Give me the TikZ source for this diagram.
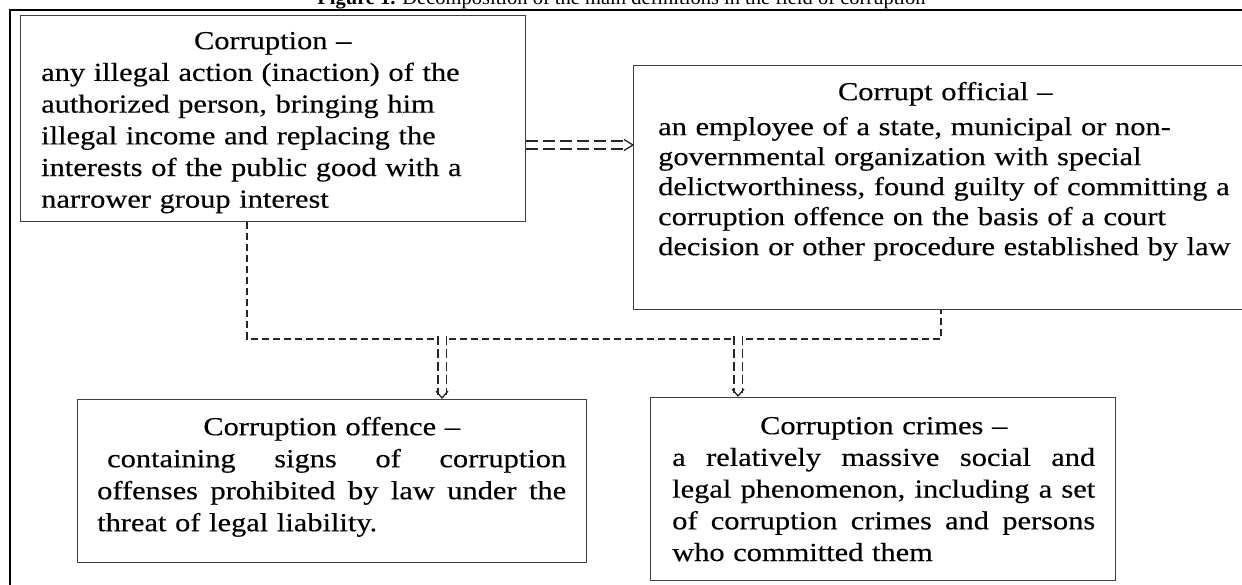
\documentclass[tikz,border=0pt]{standalone}
\usepackage{fontspec}
\setmainfont{Liberation Serif}[FakeStretch=1.17,FakeBold=0.35]
\newfontfamily\titlefont{Liberation Serif}
\usetikzlibrary{calc}
\newcommand\jstline[1]{\makebox[\linewidth][s]{#1}}
\newcommand\gp{\hfill}
\tikzset{
 boxst/.style={draw=black!75, line width=1.3pt, inner sep=0pt, anchor=north west},
 txt/.style={inner sep=0pt, anchor=north west, align=left, text=black},
 dsh/.style={draw=black!85, line width=1.2pt, dash pattern=on 7pt off 4pt},
 dblh/.style={draw=black!85, line width=1.4pt, double=white, double distance=6.5pt, dash pattern=on 12pt off 5pt},
 dblv/.style={draw=black!85, line width=1.5pt, double=white, double distance=7pt, dash pattern=on 9pt off 4pt},
 tipst/.style={draw=black!85, line width=1.3pt},
 framest/.style={draw=black, line width=2.2pt},
}
\begin{document}
\begin{tikzpicture}[x=1pt,y=-1pt]
\useasboundingbox (0,0) rectangle (1242,584);
% title (partly cut by the page edge, as in the reference)
\node[anchor=base, inner sep=0pt, font=\titlefont\fontsize{20.5}{24}\selectfont] (title) at (621.5,4.5)
  {\textbf{Figure 1.} Decomposition of the main definitions in the field of corruption};
% outer frame
\draw[framest] (10,620) -- (10,10) -- (1280,10);
% boxes
\node[boxst, minimum width=505pt, minimum height=206pt] (A) at (20,15) {};
\node[boxst, minimum width=625pt, minimum height=244pt] (B) at (633,65) {};
\node[boxst, minimum width=509pt, minimum height=163pt] (C) at (77,399) {};
\node[boxst, minimum width=465pt, minimum height=183pt] (D) at (650,397) {};
% texts
\node[txt, text width=463pt, font=\fontsize{26}{31.7}\selectfont] (At) at (41,29)
 {\makebox[\linewidth]{\rule{0pt}{20pt}Corruption –}\\
  any illegal action (inaction) of the\\
  authorized person, bringing him\\
  illegal income and replacing the\\
  interests of the public good with a\\
  narrower group interest};
\node[txt, text width=574pt, font=\fontsize{26}{30}\selectfont] (Bt) at (658,80)
 {\makebox[\linewidth]{\rule{0pt}{20pt}Corrupt official –}\\[5pt]
  an employee of a state, municipal or non-\\
  governmental organization with special\\
  delictworthiness, found guilty of committing a\\
  corruption offence on the basis of a court\\
  decision or other procedure established by law};
\node[txt, text width=469pt, font=\fontsize{26}{32}\selectfont] (Ct) at (97,415)
 {\makebox[\linewidth]{\rule{0pt}{20pt}Corruption offence –}\\
  \hspace*{10pt}\makebox[\dimexpr\linewidth-10pt\relax][s]{containing\gp signs\gp of\gp corruption}\\
  \jstline{offenses\gp prohibited\gp by\gp law\gp under\gp the}\\
  threat of legal liability.};
\node[txt, text width=423pt, font=\fontsize{26}{31.7}\selectfont] (Dt) at (672,414)
 {\makebox[\linewidth]{\rule{0pt}{20pt}Corruption crimes –}\\
  \jstline{a\gp relatively\gp massive\gp social\gp and}\\
  \jstline{legal\gp phenomenon,\gp including\gp a\gp set}\\
  \jstline{of\gp corruption\gp crimes\gp and\gp persons}\\
  who committed them};
% connectors
\coordinate (ab) at (633,145);
\draw[dblh] (A.east |- ab) -- ([xshift=-6pt]ab);
\draw[tipst] ([shift={(-9,-5.5)}]ab) -- (ab) -- ([shift={(-9,5.5)}]ab);
\coordinate (j1) at (247,339);
\coordinate (j2) at (941,339);
\draw[dsh] (A.south -| j1) -- (j1) -- (j2) -- (B.south -| j2);
\coordinate (k1) at (442,336);
\coordinate (k2) at (738,336);
\coordinate (t1) at (C.north -| k1);
\coordinate (t2) at (D.north -| k2);
\draw[dblv] (k1) -- ([yshift=4pt]t1);
\draw[dblv] (k2) -- ([yshift=4pt]t2);
\draw[tipst] ([shift={(-6,-8)}]t1) -- ([yshift=1pt]t1) -- ([shift={(6,-8)}]t1);
\draw[tipst] ([shift={(-6,-8)}]t2) -- ([yshift=1pt]t2) -- ([shift={(6,-8)}]t2);
\end{tikzpicture}
\end{document}
